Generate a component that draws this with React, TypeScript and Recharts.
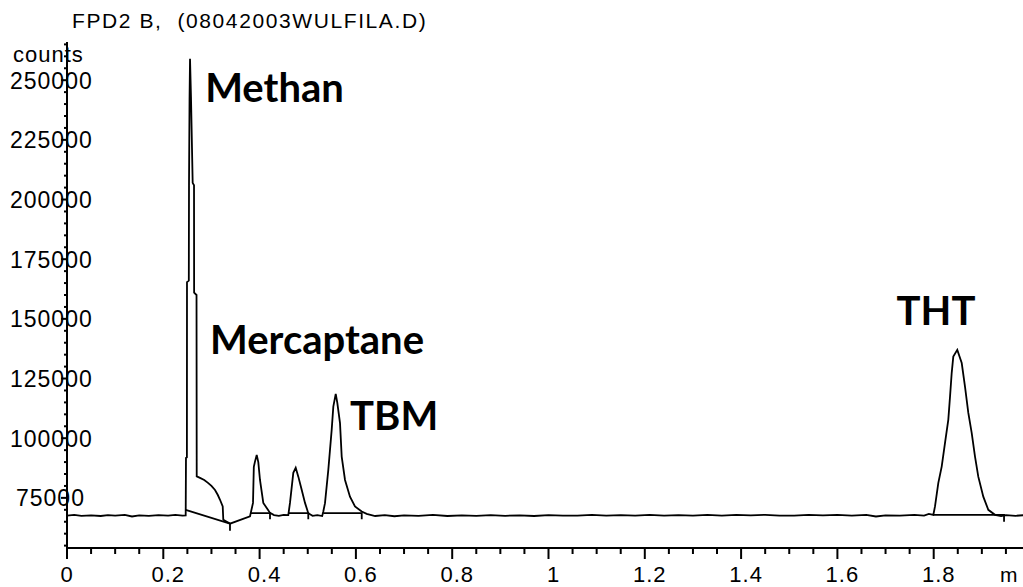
import React from 'react';
import { LineChart, Line, XAxis, YAxis, ReferenceDot } from 'recharts';

// FPD2 B chromatogram: time [min] vs counts
const signal: Array<[number, number]> = [
  [0, 67600], [0.015, 67900], [0.03, 67500], [0.05, 67700], [0.07, 67400], [0.085, 67800],
  [0.1, 67600], [0.12, 67900], [0.135, 67200], [0.15, 67700], [0.17, 67500], [0.19, 67800],
  [0.21, 67600], [0.225, 67900], [0.24, 67600], [0.2465, 67700],
  // Methan / Mercaptane
  [0.2471, 91700], [0.249, 92000], [0.2492, 165400], [0.253, 166000], [0.2534, 207000],
  [0.2545, 242000], [0.2555, 259000], [0.2575, 243000], [0.261, 207000], [0.2638, 206000],
  [0.264, 161000], [0.269, 160000], [0.2694, 84000], [0.2762, 83400], [0.285, 82500],
  [0.2928, 81300], [0.3, 80000], [0.3074, 78300], [0.313, 76300], [0.3178, 74200],
  [0.3234, 71400], [0.3246, 65800], [0.3385, 64200], [0.36, 65800], [0.3801, 67300],
  // peak at 0.39
  [0.3863, 72900], [0.388, 88000], [0.3904, 90200], [0.394, 93000], [0.3973, 90000],
  [0.4008, 82500], [0.4077, 72900], [0.4148, 70800], [0.4216, 68700], [0.43, 67800],
  [0.44, 67500], [0.45, 67900], [0.4596, 67800],
  // peak at 0.47
  [0.4631, 72900], [0.47, 85500], [0.475, 87600], [0.4804, 83900], [0.4874, 78400],
  [0.4943, 72900], [0.5011, 68600], [0.51, 67500], [0.52, 67800], [0.53, 67400],
  // TBM
  [0.5323, 69300], [0.5358, 72800], [0.5427, 86700], [0.5497, 103500], [0.5531, 113200],
  [0.5581, 118600], [0.5614, 114800], [0.567, 106300], [0.5705, 92300], [0.5774, 82500],
  [0.5877, 75500], [0.5981, 71400], [0.6121, 69300], [0.6224, 68300],
  // baseline
  [0.64, 67400], [0.66, 67800], [0.68, 67300], [0.7, 67700], [0.73, 67500], [0.76, 67900],
  [0.79, 67400], [0.82, 67700], [0.85, 67500], [0.88, 67800], [0.91, 67500], [0.94, 67700],
  [0.97, 67400], [1.0, 67800], [1.03, 67600], [1.06, 67600], [1.09, 67900], [1.12, 67600],
  [1.15, 67800], [1.18, 67600], [1.21, 67900], [1.24, 67600], [1.27, 67800], [1.3, 67600],
  [1.33, 67900], [1.36, 67600], [1.39, 67900], [1.42, 67700], [1.45, 67900], [1.48, 67600],
  [1.51, 67600], [1.54, 67900], [1.57, 67700], [1.6, 67900], [1.63, 67600], [1.66, 67900],
  [1.68, 67200], [1.7, 67700], [1.73, 67600], [1.76, 67900], [1.78, 67600], [1.79, 68300],
  [1.7992, 67900],
  // THT
  [1.8027, 71400], [1.8096, 81300], [1.8166, 88100], [1.8235, 98000], [1.8303, 107700],
  [1.8339, 117400], [1.8374, 127400], [1.8407, 134200], [1.849, 137000], [1.8582, 131500],
  [1.865, 121600], [1.8719, 110600], [1.8789, 102200], [1.8858, 92300], [1.8926, 83900],
  [1.903, 75500], [1.9134, 70000], [1.9273, 67900], [1.94, 67400], [1.95, 67800],
  [1.97, 67500], [1.99, 67800], [2.0, 67600],
];

// integration baselines (with the small drop mark at the end)
const baseMethan: Array<[number, number]> = [[0.2465, 70000], [0.3385, 64200], [0.3385, 61200]];
const base039: Array<[number, number]> = [[0.3801, 68600], [0.4216, 68600], [0.4216, 66000]];
const base047: Array<[number, number]> = [[0.4596, 68600], [0.5011, 68600], [0.5011, 66000]];
const baseTBM: Array<[number, number]> = [[0.5323, 68600], [0.6121, 68600], [0.6121, 66000]];
const baseTHT: Array<[number, number]> = [[1.7992, 67900], [1.9461, 67900], [1.9461, 65000]];

const peakNames = ['Methan', 'Mercaptane', 'TBM', 'THT'];
const peakLabelTime = [0.287, 0.297, 0.588, 1.723];
const peakLabelCounts = [241000, 135300, 103500, 147500];

// labelled x ticks (the 2.0 tick falls outside the visible area)
const xMajorTicks = [0, 0.2, 0.4, 0.6, 0.8, 1, 1.2, 1.4, 1.6, 1.8];
const xTicks = [
  0, 0.05, 0.1, 0.15, 0.2, 0.25, 0.3, 0.35, 0.4, 0.45, 0.5, 0.55, 0.6, 0.65, 0.7, 0.75,
  0.8, 0.85, 0.9, 0.95, 1, 1.05, 1.1, 1.15, 1.2, 1.25, 1.3, 1.35, 1.4, 1.45, 1.5, 1.55,
  1.6, 1.65, 1.7, 1.75, 1.8, 1.85, 1.9, 1.95,
];
const yLabelTicks = [75000, 100000, 125000, 150000, 175000, 200000, 225000, 250000];
const yTicks = [
  55000, 60000, 65000, 70000, 75000, 80000, 85000, 90000, 95000, 100000, 105000, 110000,
  115000, 120000, 125000, 130000, 135000, 140000, 145000, 150000, 155000, 160000, 165000,
  170000, 175000, 180000, 185000, 190000, 195000, 200000, 205000, 210000, 215000, 220000,
  225000, 230000, 235000, 240000, 245000, 250000, 255000, 260000, 265000,
];

const toRows = (pts: Array<[number, number]>) => pts.map(([t, counts]) => ({ t, counts }));

const axisFont = '"Liberation Sans", Arial, sans-serif';
const labelFont = 'Lato, "Open Sans", sans-serif';

function XTick(props: any) {
  const { x, y, payload } = props;
  const v = payload.value;
  const major = xMajorTicks.some((m) => Math.abs(m - v) < 1e-6);
  const label = v === 0 ? '0' : String(v);
  return (
    <g>
      <line x1={x} x2={x} y1={y} y2={y + (major ? 11 : 6)} stroke="#000" strokeWidth={2} />
      {major && (
        <text
          x={x + (v === 0 ? 0 : 5)}
          y={y + 34}
          textAnchor="middle"
          fontFamily={axisFont}
          fontSize={22}
          letterSpacing={1}
          fill="#000"
        >
          {label}
        </text>
      )}
    </g>
  );
}

function YTick(props: any) {
  const { x, y, payload } = props;
  const v = payload.value;
  const major = yLabelTicks.includes(v);
  return (
    <g>
      <line x1={x - (major ? 6 : 3)} x2={x} y1={y} y2={y} stroke="#000" strokeWidth={2} />
      {major && (
        <text
          x={v >= 100000 ? 10 : 16}
          y={y + 8.5}
          textAnchor="start"
          fontFamily={axisFont}
          fontSize={23}
          letterSpacing={1}
          fill="#000"
        >
          {v}
        </text>
      )}
    </g>
  );
}

export default function App() {
  const lineProps = {
    type: 'linear' as const,
    dataKey: 'counts',
    stroke: '#000',
    strokeWidth: 1.8,
    dot: false,
    isAnimationActive: false,
  };
  return (
    <div
      style={{
        position: 'absolute',
        left: 0,
        top: 0,
        width: 1023,
        height: 587,
        overflow: 'hidden',
        background: '#fff',
      }}
    >
      <svg
        width={1023}
        height={587}
        style={{ position: 'absolute', left: 0, top: 0, pointerEvents: 'none', zIndex: 1 }}
      >
        <text x={72} y={28} fontFamily={axisFont} fontSize={21} letterSpacing={1.6} fill="#000">
          {'FPD2 B,\u00a0 (08042003WULFILA.D)'}
        </text>
        <text x={13} y={62} fontFamily={axisFont} fontSize={22} letterSpacing={1} fill="#000">
          counts
        </text>
        <text x={1000} y={582} fontFamily={axisFont} fontSize={21} fill="#000">
          m
        </text>
      </svg>
      <LineChart
        width={1040}
        height={587}
        margin={{ top: 42, right: 10, bottom: 38, left: 66 }}
      >
        <XAxis
          dataKey="t"
          type="number"
          domain={[0, 2]}
          ticks={xTicks}
          interval={0}
          height={1}
          tickSize={0}
          tickMargin={0}
          tickLine={false}
          axisLine={{ stroke: '#000', strokeWidth: 2 }}
          tick={<XTick />}
          allowDataOverflow
        />
        <YAxis
          type="number"
          domain={[54000, 266000]}
          ticks={yTicks}
          interval={0}
          width={1}
          tickSize={0}
          tickMargin={0}
          tickLine={false}
          axisLine={{ stroke: '#000', strokeWidth: 2 }}
          tick={<YTick />}
          allowDataOverflow
        />
        <Line {...lineProps} data={toRows(signal)} />
        <Line {...lineProps} data={toRows(baseMethan)} />
        <Line {...lineProps} data={toRows(base039)} />
        <Line {...lineProps} data={toRows(base047)} />
        <Line {...lineProps} data={toRows(baseTBM)} />
        <Line {...lineProps} data={toRows(baseTHT)} />
        {peakNames.map((name, i) => (
          <ReferenceDot
            key={name}
            x={peakLabelTime[i]}
            y={peakLabelCounts[i]}
            r={0}
            shape={(p: any) => (
              <text
                x={p.cx}
                y={p.cy}
                fontFamily={labelFont}
                fontWeight={700}
                fontSize={40}
                fill="#000"
              >
                {name}
              </text>
            )}
          />
        ))}
      </LineChart>
    </div>
  );
}
